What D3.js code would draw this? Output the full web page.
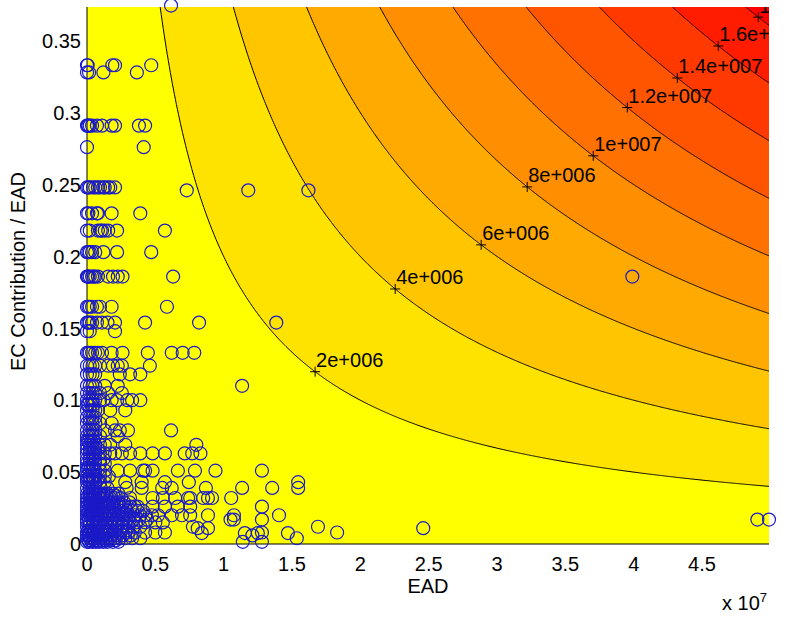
<!DOCTYPE html>
<html>
<head>
<meta charset="utf-8">
<script src="https://cdn.jsdelivr.net/npm/d3@7"></script>
<style>
  html, body { margin: 0; padding: 0; background: #ffffff; }
  svg { display: block; }
  text { font-family: "Liberation Sans", Arial, sans-serif; fill: #000; }
</style>
</head>
<body>
<svg id="chart" width="800" height="617"></svg>
<script>
// ---------------- DATA ----------------
const xTicks = [0, 0.5, 1, 1.5, 2, 2.5, 3, 3.5, 4, 4.5];           // x 10^7
const yTicks = [0, 0.05, 0.1, 0.15, 0.2, 0.25, 0.3, 0.35];
const xTickLabels = ["0", "0.5", "1", "1.5", "2", "2.5", "3", "3.5", "4", "4.5"];
const yTickLabels = ["0", "0.05", "0.1", "0.15", "0.2", "0.25", "0.3", "0.35"];
const eadMax = 49.9e6;
const ratioMax = 0.3735;

// contour levels of EC contribution = EAD * ratio
const levels = [0, 2e6, 4e6, 6e6, 8e6, 10e6, 12e6, 14e6, 16e6, 18e6];
const levelLabels = ["", "2e+006", "4e+006", "6e+006", "8e+006", "1e+007", "1.2e+007", "1.4e+007", "1.6e+007", "1.8e+007"];
// EAD (millions) where each contour label sits
const labelEAD = [null, 16.69, 22.55, 28.84, 32.21, 37.04, 39.53, 43.19, 46.19, 49.12];

// scatter points grouped by EC contribution / EAD ratio; EAD in millions
const rowRatio = [
  0.3745, 0.333, 0.328, 0.291, 0.276, 0.248, 0.246, 0.230, 0.218, 0.203,
  0.186, 0.165, 0.154, 0.148, 0.133, 0.124, 0.118, 0.110, 0.105, 0.100,
  0.097, 0.093, 0.088, 0.084, 0.079, 0.075, 0.072, 0.069, 0.066, 0.063,
  0.059, 0.056, 0.053, 0.051, 0.047, 0.045, 0.043, 0.039, 0.035, 0.0335,
  0.032, 0.029, 0.0275, 0.026, 0.023, 0.0215, 0.020, 0.017, 0.015, 0.012,
  0.011, 0.0095, 0.008, 0.0076, 0.006, 0.004, 0.0025, 0.0015
];
const rowEAD = [
  [6.15],
  [0, 0.05, 1.85, 2.05, 4.7],
  [0, 0.15, 1.2, 3.65],
  [0, 0.05, 0.1, 0.2, 0.37, 0.73, 1.1, 1.8, 2.05, 3.8, 4.25],
  [0, 4.15],
  [0, 0.1, 0.2, 0.44, 0.6, 0.8, 0.95, 1.2, 1.3, 1.55, 1.7, 2.05],
  [7.3, 11.8, 16.2],
  [0, 0.1, 0.37, 0.73, 0.8, 1.8, 3.9],
  [0, 0.2, 0.8, 1.0, 1.1, 1.3, 1.55, 2.2, 5.7],
  [0, 0.1, 0.2, 0.37, 0.6, 1.2, 2.2, 4.7],
  [0, 0.05, 0.1, 0.2, 0.37, 0.5, 0.6, 0.8, 1.55, 1.9, 2.25, 2.6, 6.3, 39.9],
  [0, 0.1, 0.2, 0.37, 0.73, 0.95, 1.8, 5.85],
  [0, 0.1, 0.2, 0.37, 0.73, 1.1, 1.5, 2.05, 4.25, 8.2, 13.85],
  [0, 0.2, 2.05],
  [0, 0.1, 0.2, 0.37, 0.6, 0.8, 1.1, 1.8, 2.6, 4.45, 6.2, 7.0, 7.85],
  [0, 0.2, 0.4, 0.6, 0.95, 1.55, 1.9, 2.25, 2.55, 4.6],
  [0, 0.2, 0.4, 0.6, 2.4, 3.15, 3.9],
  [0, 0.2, 0.4, 0.6, 1.3, 2.25, 11.35],
  [0, 0.2, 0.4, 0.6, 0.95, 1.55, 2.55],
  [0, 0.2, 0.4, 0.6, 0.95, 1.2, 1.8, 2.2, 2.95, 3.3, 3.9],
  [0, 0.1, 0.3, 0.5],
  [0, 0.2, 0.4, 0.6, 0.8, 1.7, 2.8],
  [0, 0.2, 0.4, 0.6],
  [0, 0.2, 0.4, 0.6, 0.95, 1.8],
  [0, 0.2, 0.4, 0.6, 1.3, 2.05, 2.4, 3.0, 6.15],
  [0, 0.2, 0.4, 0.6, 0.95, 2.25],
  [0, 0.1, 0.3, 0.5],
  [0, 0.2, 0.4, 0.6, 0.95, 1.3, 1.7, 2.8, 8.0],
  [0, 0.2, 0.4, 0.6, 0.8],
  [0, 0.2, 0.4, 0.6, 0.95, 1.3, 1.7, 2.05, 2.55, 3.15, 3.9, 4.8, 5.7, 7.15, 7.7, 8.3],
  [0, 0.2, 0.4, 0.6, 0.95, 1.2],
  [0, 0.2, 0.4, 0.6, 0.95, 1.3],
  [0, 0.1, 0.3, 0.5],
  [0, 0.2, 0.4, 0.6, 0.95, 1.3, 2.25, 3.15, 4.1, 4.25, 4.8, 6.65, 7.9, 9.4, 12.8],
  [0, 0.2, 0.4, 0.6, 0.95, 1.3, 1.6],
  [0, 0.1, 0.3, 0.5, 0.8],
  [0, 0.2, 0.4, 0.6, 0.95, 1.3, 2.8, 4.0, 5.7, 7.45, 15.45],
  [0, 0.2, 0.4, 0.6, 1.0, 1.5, 2.9, 4.0, 5.5, 6.2, 8.7, 11.35, 13.55, 15.45],
  [0, 0.2, 0.4, 0.6, 0.9, 1.2, 1.5, 1.9, 2.3],
  [0.1, 0.3, 0.55, 0.8, 1.1, 1.4, 1.75, 2.1],
  [0, 0.2, 0.4, 0.6, 0.95, 1.3, 1.7, 2.05, 2.5, 3.15, 4.8, 5.55, 6.45, 7.4, 7.55, 8.5, 8.85, 9.15, 10.55],
  [0, 0.2, 0.45, 0.7, 1.0, 1.3, 1.6, 1.9, 2.3, 2.7, 3.1],
  [0.1, 0.3, 0.55, 0.8, 1.15, 1.45, 1.75, 2.15, 2.55],
  [0, 0.2, 0.45, 0.7, 1.0, 1.3, 1.6, 2.0, 2.4, 2.8, 3.2, 3.5, 3.7, 4.8, 5.7, 6.65, 7.55, 12.8],
  [0, 0.15, 0.4, 0.65, 0.9, 1.2, 1.5, 1.8, 2.1, 2.5, 2.9, 3.3, 3.7, 4.1],
  [0.1, 0.3, 0.55, 0.8, 1.1, 1.4, 1.7, 2.0, 2.4, 2.8],
  [0, 0.2, 0.45, 0.7, 1.0, 1.3, 1.6, 1.9, 2.3, 2.7, 3.1, 3.5, 3.9, 4.3, 4.75, 5.2, 6.2, 6.95, 7.55, 8.85, 10.75, 14.05],
  [0, 0.15, 0.4, 0.65, 0.9, 1.2, 1.5, 1.8, 2.2, 2.6, 3.0, 3.4, 3.8, 4.4, 10.5, 10.75, 12.8, 49.05, 49.9],
  [0, 0.2, 0.45, 0.7, 1.0, 1.3, 1.6, 2.0, 2.4, 2.8, 3.2, 3.6, 4.25, 5.0, 5.55],
  [0, 0.15, 0.4, 0.65, 0.9, 1.2, 1.5, 1.8, 2.2, 2.6, 3.0, 3.4, 3.9, 7.75, 16.9],
  [8.1, 8.85, 24.6],
  [0.1, 0.3, 0.55, 0.8, 1.1, 1.4, 1.7, 2.1, 2.5, 2.9],
  [0, 0.2, 0.45, 0.7, 1.0, 1.3, 1.6, 2.0, 2.4, 2.8, 3.0, 3.5, 4.25, 5.0, 5.7, 12.8, 18.3],
  [8.4, 11.55, 12.5, 14.7],
  [0, 0.15, 0.4, 0.65, 0.9, 1.2, 1.5, 1.8, 2.2, 2.6, 3.2, 12.1],
  [0, 0.2, 0.45, 0.7, 1.0, 1.3, 1.6, 2.0, 2.4, 2.8, 3.3, 3.9, 15.35],
  [0.1, 0.3, 0.55, 0.8, 1.1, 1.4, 1.7, 2.1],
  [0, 0.15, 0.4, 0.65, 0.9, 1.2, 1.5, 1.9, 2.3, 11.4, 12.8]
];

// ---------------- DRAWING ----------------
(function () {
const svg = d3.select("#chart");
const pLeft = 87, pRight = 769, pTop = 7, pBottom = 544;
const x = d3.scaleLinear().domain([0, eadMax]).range([pLeft, pRight]);
const y = d3.scaleLinear().domain([0, ratioMax]).range([pBottom, pTop]);
const color = d3.scaleLinear().domain([0, levels[levels.length - 1]])
  .range(["#ffff00", "#ff0000"]).interpolate(d3.interpolateRgb);

svg.append("defs").append("clipPath").attr("id", "plotClip")
  .append("rect").attr("x", pLeft).attr("y", pTop)
  .attr("width", pRight - pLeft).attr("height", pBottom - pTop);

const plot = svg.append("g").attr("clip-path", "url(#plotClip)");

// curve points along EAD*ratio = level
function curve(level) {
  const x0 = level / ratioMax;
  const n = 600;
  return d3.range(n + 1).map(i => {
    const e = x0 + (eadMax - x0) * i / n;
    return [e, level / e];
  });
}

// filled bands (each level paints region where EAD*ratio >= level)
levels.forEach(L => {
  if (L === 0) {
    plot.append("rect").attr("x", pLeft).attr("y", pTop)
      .attr("width", pRight - pLeft).attr("height", pBottom - pTop)
      .attr("fill", color(0));
    return;
  }
  const area = d3.area()
    .x(d => x(d[0]))
    .y0(d => y(d[1]))
    .y1(() => y(ratioMax));
  plot.append("path").datum(curve(L)).attr("d", area).attr("fill", color(L));
});

// contour lines
const line = d3.line().x(d => x(d[0])).y(d => y(d[1]));
levels.forEach(L => {
  if (L === 0) return;
  plot.append("path").datum(curve(L)).attr("d", line)
    .attr("fill", "none").attr("stroke", "#000").attr("stroke-width", 1);
});

// contour labels with + markers
levels.forEach((L, i) => {
  if (L === 0) return;
  const cx = x(labelEAD[i] * 1e6), cy = y(L / (labelEAD[i] * 1e6));
  plot.append("path")
    .attr("d", `M${cx - 5},${cy}H${cx + 5}M${cx},${cy - 5}V${cy + 5}`)
    .attr("stroke", "#000").attr("stroke-width", 1);
  plot.append("text").attr("x", cx + 1).attr("y", cy - 4.5)
    .attr("font-size", 20).text(levelLabels[i]);
});

// axis lines (left & bottom)
svg.append("path").attr("d", `M${pLeft},${pTop}V${pBottom}H${pRight}`)
  .attr("fill", "none").attr("stroke", "#000").attr("stroke-width", 1);

// scatter points
const pts = [];
rowRatio.forEach((r, i) => rowEAD[i].forEach(e => pts.push([e * 1e6, r])));
svg.append("g").selectAll("circle").data(pts).join("circle")
  .attr("cx", d => x(d[0])).attr("cy", d => y(d[1])).attr("r", 6.5)
  .attr("fill", "none").attr("stroke", "#1a1ac8").attr("stroke-width", 1.2);

// tick labels
svg.append("g").selectAll("text").data(xTicks).join("text")
  .attr("x", d => x(d * 1e7)).attr("y", 571).attr("text-anchor", "middle")
  .attr("font-size", 20).text((d, i) => xTickLabels[i]);
svg.append("g").selectAll("text").data(yTicks).join("text")
  .attr("x", 81).attr("y", d => y(d)).attr("dy", "0.36em").attr("text-anchor", "end")
  .attr("font-size", 20).text((d, i) => yTickLabels[i]);

// exponent
const ex = svg.append("text").attr("x", 722).attr("y", 610).attr("font-size", 20);
ex.append("tspan").text("x 10");
ex.append("tspan").attr("dy", -8).attr("font-size", 13).text("7");

// axis titles
svg.append("text").attr("x", (pLeft + pRight) / 2).attr("y", 593)
  .attr("text-anchor", "middle").attr("font-size", 20).text("EAD");
svg.append("text").attr("transform", `translate(25,${(pTop + pBottom) / 2 - 4}) rotate(-90)`)
  .attr("text-anchor", "middle").attr("font-size", 20).text("EC Contribution / EAD");
})();
</script>
</body>
</html>
